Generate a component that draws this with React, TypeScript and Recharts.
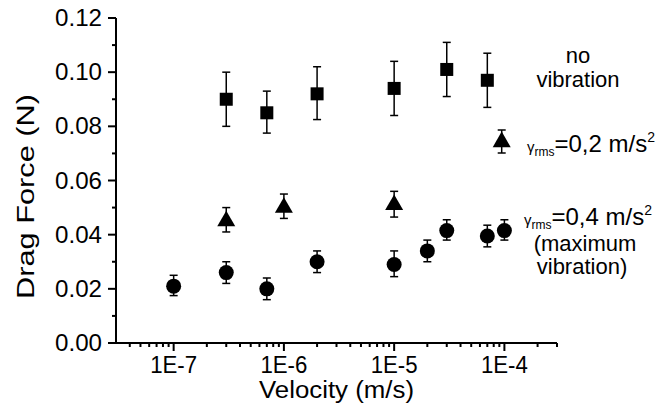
import { ScatterChart, Scatter, XAxis, YAxis, ErrorBar } from "recharts"

// drag force data (velocity in m/s, force in N)
const squareX = [3e-7, 7e-7, 2e-6, 1e-5, 3e-5, 7e-5]
const squareY = [0.090, 0.085, 0.092, 0.094, 0.101, 0.097]
const squareLow = [0.080, 0.0775, 0.0825, 0.084, 0.091, 0.087]
const squareHigh = [0.100, 0.093, 0.102, 0.104, 0.111, 0.107]

const triangleX = [3e-7, 1e-6, 1e-5]
const triangleY = [0.045, 0.050, 0.051]
const triangleLow = [0.041, 0.046, 0.0465]
const triangleHigh = [0.050, 0.055, 0.056]

const circleX = [1e-7, 3e-7, 7e-7, 2e-6, 1e-5, 2e-5, 3e-5, 7e-5, 1e-4]
const circleY = [0.021, 0.026, 0.020, 0.030, 0.029, 0.034, 0.0415, 0.0395, 0.0415]
const circleLow = [0.0175, 0.022, 0.016, 0.026, 0.0245, 0.030, 0.038, 0.0355, 0.038]
const circleHigh = [0.025, 0.030, 0.024, 0.034, 0.034, 0.038, 0.0455, 0.0435, 0.0455]

const xMajor = [1e-7, 1e-6, 1e-5, 1e-4]
const xMajorLabels = ["1E-7", "1E-6", "1E-5", "1E-4"]
const xMinor = [
  4e-8, 5e-8, 6e-8, 7e-8, 8e-8, 9e-8,
  2e-7, 3e-7, 4e-7, 5e-7, 6e-7, 7e-7, 8e-7, 9e-7,
  2e-6, 3e-6, 4e-6, 5e-6, 6e-6, 7e-6, 8e-6, 9e-6,
  2e-5, 3e-5, 4e-5, 5e-5, 6e-5, 7e-5, 8e-5, 9e-5,
  2e-4, 3e-4,
]
const yMajor = [0, 0.02, 0.04, 0.06, 0.08, 0.1, 0.12]
const yMajorLabels = ["0.00", "0.02", "0.04", "0.06", "0.08", "0.10", "0.12"]
const yMinor = [0.01, 0.03, 0.05, 0.07, 0.09, 0.11]

const FONT = "'Liberation Sans', Arial, sans-serif"

const rows = (xs: number[], ys: number[], lo: number[], hi: number[]) =>
  xs.map((x, i) => ({ x, y: ys[i], err: [ys[i] - lo[i], hi[i] - ys[i]] }))

const squares = rows(squareX, squareY, squareLow, squareHigh)
const triangles = rows(triangleX, triangleY, triangleLow, triangleHigh)
const circles = rows(circleX, circleY, circleLow, circleHigh)

const majorIndex = (list: number[], v: number) => list.findIndex((m) => Math.abs(m - v) < m * 1e-6 + 1e-12)

const XTick = (props: any) => {
  const { x, y, payload } = props
  const idx = majorIndex(xMajor, payload.value)
  const major = idx >= 0
  return (
    <g>
      <line x1={x} x2={x} y1={y} y2={y + (major ? 8 : 4)} stroke="#000" strokeWidth={2} />
      {major && (
        <text x={x} y={y + 30} textAnchor="middle" fontFamily={FONT} fontSize={23} fill="#000"
          textLength={47} lengthAdjust="spacingAndGlyphs">
          {xMajorLabels[idx]}
        </text>
      )}
    </g>
  )
}

const YTick = (props: any) => {
  const { x, y, payload } = props
  const idx = majorIndex(yMajor, payload.value)
  const major = idx >= 0
  return (
    <g>
      <line x1={x} x2={x - (major ? 8 : 4)} y1={y} y2={y} stroke="#000" strokeWidth={2} />
      {major && (
        <text x={x - 14} y={y + 8} textAnchor="end" fontFamily={FONT} fontSize={23} fill="#000"
          textLength={47} lengthAdjust="spacingAndGlyphs">
          {yMajorLabels[idx]}
        </text>
      )}
    </g>
  )
}

const Square = (p: any) => <rect x={p.cx - 6.5} y={p.cy - 6.5} width={13} height={13} fill="#000" />
const Circle = (p: any) => <circle cx={p.cx} cy={p.cy} r={7.5} fill="#000" />
const Triangle = (p: any) => (
  <path d={`M${p.cx},${p.cy - 10.4} L${p.cx + 9},${p.cy + 5.2} L${p.cx - 9},${p.cy + 5.2} Z`} fill="#000" />
)

const XTitle = (props: any) => {
  const { x, y, width } = props.viewBox
  return (
    <text x={x + width / 2} y={y + 55} textAnchor="middle" fontFamily={FONT} fontSize={23} fill="#000"
      textLength={155} lengthAdjust="spacingAndGlyphs">
      Velocity (m/s)
    </text>
  )
}

const YTitle = (props: any) => {
  const { y, height } = props.viewBox
  const cy = y + height / 2 + 16
  return (
    <text x={34} y={cy} transform={`rotate(-90 34 ${cy})`} textAnchor="middle" fontFamily={FONT} fontSize={23}
      fill="#000" textLength={205} lengthAdjust="spacingAndGlyphs">
      Drag Force (N)
    </text>
  )
}

function Gamma({ x, y, value }: { x: number; y: number; value: string }) {
  return (
    <text x={x} y={y} fontFamily={FONT} fill="#000" fontSize={24}>
      <tspan fontSize={15}>γ</tspan>
      <tspan fontSize={12} y={y + 4}>rms</tspan>
      <tspan y={y}>{value} m/s</tspan>
      <tspan fontSize={14} y={y - 10}>2</tspan>
    </text>
  )
}

export default function App() {
  // the wrapper sits at the page corner so chart pixels equal page pixels
  return (
    <div style={{ position: "relative", width: 665, height: 405, margin: "-8px 0 0 -8px" }}>
      <ScatterChart width={665} height={405} margin={{ top: 18, right: 108, bottom: 0, left: 0 }}>
        <XAxis
          dataKey="x"
          type="number"
          scale="log"
          domain={[3e-8, 3e-4]}
          allowDataOverflow
          ticks={[...xMajor, ...xMinor]}
          interval={0}
          tick={<XTick />}
          tickSize={0}
          tickMargin={0}
          tickLine={false}
          axisLine={{ stroke: "#000", strokeWidth: 2 }}
          height={62}
          label={<XTitle />}
        />
        <YAxis
          dataKey="y"
          type="number"
          domain={[0, 0.12]}
          allowDataOverflow
          ticks={[...yMajor, ...yMinor]}
          interval={0}
          tick={<YTick />}
          tickSize={0}
          tickMargin={0}
          tickLine={false}
          axisLine={{ stroke: "#000", strokeWidth: 2 }}
          width={116}
          label={<YTitle />}
        />
        <Scatter data={squares} shape={<Square />} isAnimationActive={false}>
          <ErrorBar dataKey="err" direction="y" width={4} stroke="#000" strokeWidth={1.5} />
        </Scatter>
        <Scatter data={triangles} shape={<Triangle />} isAnimationActive={false}>
          <ErrorBar dataKey="err" direction="y" width={4} stroke="#000" strokeWidth={1.5} />
        </Scatter>
        <Scatter data={circles} shape={<Circle />} isAnimationActive={false}>
          <ErrorBar dataKey="err" direction="y" width={4} stroke="#000" strokeWidth={1.5} />
        </Scatter>
      </ScatterChart>
      <svg
        width={665}
        height={405}
        style={{ position: "absolute", left: 0, top: 0, pointerEvents: "none" }}
      >
        <text x={578} y={63} textAnchor="middle" fontFamily={FONT} fontSize={22} fill="#000">no</text>
        <text x={578} y={87} textAnchor="middle" fontFamily={FONT} fontSize={22} fill="#000">vibration</text>
        <g>
          <line x1={501.7} x2={501.7} y1={130} y2={153} stroke="#000" strokeWidth={1.5} />
          <line x1={497.7} x2={505.7} y1={130} y2={130} stroke="#000" strokeWidth={1.5} />
          <line x1={497.7} x2={505.7} y1={153} y2={153} stroke="#000" strokeWidth={1.5} />
          <path d="M501.7,131.6 L510.7,147.2 L492.7,147.2 Z" fill="#000" />
        </g>
        <Gamma x={527} y={152} value="=0,2" />
        <Gamma x={524} y={225} value="=0,4" />
        <text x={585} y={251} textAnchor="middle" fontFamily={FONT} fontSize={22} fill="#000">(maximum</text>
        <text x={582} y={274} textAnchor="middle" fontFamily={FONT} fontSize={22} fill="#000">vibration)</text>
      </svg>
    </div>
  )
}
